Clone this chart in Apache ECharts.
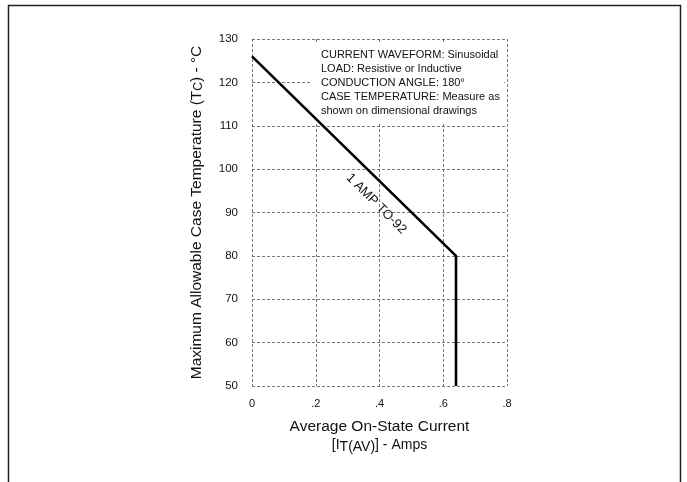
<!DOCTYPE html>
<html>
<head>
<meta charset="utf-8">
<script src="https://cdn.jsdelivr.net/npm/echarts@6/dist/echarts.min.js"></script>
<style>
html,body{margin:0;padding:0;background:#fff;}
#c{width:687px;height:482px;}
</style>
</head>
<body>
<div id="c"></div>
<script>
// Data
var curveX = [0, 0.64, 0.64];
var curveY = [126, 80, 50];
var xTicks = ['0', '.2', '.4', '.6', '.8'];
var yMin = 50, yMax = 130, yStep = 10;
var xMin = 0, xMax = 0.8, xStep = 0.2;
var curveLabel = '1 AMP TO-92';
var noteLines = [
  'CURRENT WAVEFORM: Sinusoidal',
  'LOAD: Resistive or Inductive',
  'CONDUCTION ANGLE: 180\u00B0',
  'CASE TEMPERATURE: Measure as',
  'shown on dimensional drawings'
];
var labelAt = [0.39, 98];

var FONT = '"Liberation Sans", Arial, sans-serif';
var chart = echarts.init(document.getElementById('c'), null, {renderer: 'canvas'});
var data = curveX.map(function (x, i) { return [x, curveY[i]]; });
var gridLine = {show: true, lineStyle: {color: '#555', width: 0.8, type: [3, 2]}};

chart.setOption({
  backgroundColor: '#fff',
  animation: false,
  grid: {left: 252, top: 39, width: 255, height: 347, z: 0},
  xAxis: {
    type: 'value', min: xMin, max: xMax, interval: xStep,
    axisLine: {show: false}, axisTick: {show: false},
    splitLine: gridLine,
    axisLabel: {
      color: '#111', fontFamily: FONT, fontSize: 11, margin: 12,
      formatter: function (v) { return xTicks[Math.round(v / xStep)]; }
    },
    name: 'Average On-State Current\n{b|[I}{sub|T(AV)}{b|] - Amps}',
    nameLocation: 'middle', nameGap: 32,
    nameTextStyle: {
      color: '#111', fontFamily: FONT, fontSize: 15.5, lineHeight: 18,
      verticalAlign: 'top',
      rich: {
        b: {fontFamily: FONT, fontSize: 14, color: '#111', lineHeight: 18},
        sub: {fontFamily: FONT, fontSize: 14, color: '#111', lineHeight: 18, padding: [5, 0, 0, 0]}
      }
    }
  },
  yAxis: {
    type: 'value', min: yMin, max: yMax, interval: yStep,
    axisLine: {show: false}, axisTick: {show: false},
    splitLine: gridLine,
    axisLabel: {color: '#111', fontFamily: FONT, fontSize: 11.5, margin: 14},
    name: 'Maximum Allowable Case Temperature (T{sub|C}) - \u00B0C',
    nameLocation: 'middle', nameGap: 47,
    nameTextStyle: {
      color: '#111', fontFamily: FONT, fontSize: 15.5,
      rich: {sub: {fontFamily: FONT, fontSize: 12, color: '#111', padding: [0, 0, -4, 0]}}
    }
  },
  series: [{
    type: 'line', data: data, symbol: 'none',
    lineStyle: {color: '#000', width: 2.6}, z: 20
  }]
});

var p = chart.convertToPixel({gridIndex: 0}, labelAt);
chart.setOption({
  graphic: [
    {type: 'rect', shape: {x: 8.5, y: 5.5, width: 672, height: 490}, style: {fill: 'none', stroke: '#222', lineWidth: 1.5}, silent: true, z: 1},
    {type: 'rect', shape: {x: 312, y: 42, width: 192, height: 80}, style: {fill: '#fff'}, z: 2},
    {type: 'text', left: 321, top: 48, z: 3,
      style: {text: noteLines.join('\n'), fill: '#111', font: '11px ' + FONT, lineHeight: 14}},
    {type: 'text', x: p[0], y: p[1] + 26, rotation: -45 * Math.PI / 180, z: 3,
      style: {text: curveLabel, fill: '#111', font: '13px ' + FONT, align: 'center', verticalAlign: 'middle'}}
  ]
});
</script>
</body>
</html>
